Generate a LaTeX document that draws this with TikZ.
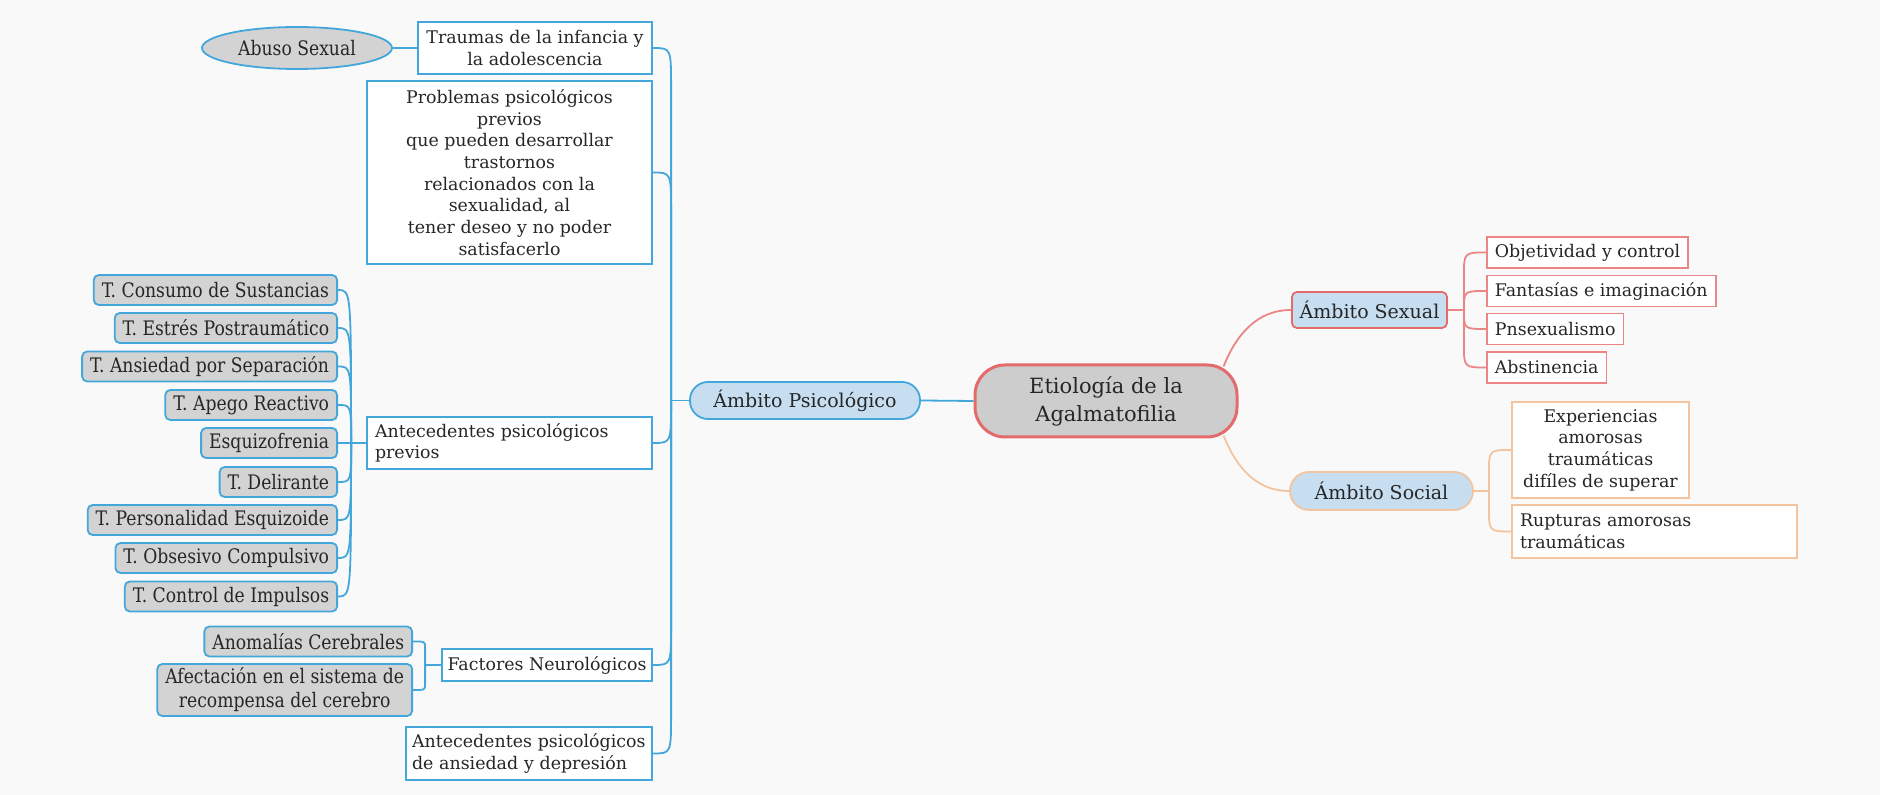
\documentclass[tikz,border=0pt]{standalone}
\usepackage{fontspec}
\setmainfont{DejaVu Serif}
\newfontfamily\condfont[FakeStretch=0.86]{DejaVu Serif}
\usetikzlibrary{calc,shapes.geometric}
\definecolor{bg}{HTML}{F9F9F9}
\definecolor{bl}{HTML}{43A7DC}
\definecolor{blfill}{HTML}{C7DEF1}
\definecolor{gyfill}{HTML}{D3D3D3}
\definecolor{etfill}{HTML}{CDCDCD}
\definecolor{rd}{HTML}{E36B6B}
\definecolor{rdl}{HTML}{EC8585}
\definecolor{og}{HTML}{F4C49E}
\definecolor{tx}{HTML}{262626}
\tikzset{
  wbox/.style={draw=bl, line width=0.9pt, fill=white, inner sep=0pt, align=center, text=tx,
    font=\fontsize{8.7}{10.85}\selectfont},
  gbox/.style={draw=bl, line width=0.9pt, fill=gyfill, rounded corners=2.5pt, minimum height=15pt,
    inner xsep=4pt, inner ysep=1pt, align=center, text=tx, font=\condfont\fontsize{10}{12}\selectfont},
  rbox/.style={wbox, draw=rdl, anchor=west, minimum height=15.5pt, inner xsep=4pt},
  obox/.style={wbox, draw=og},
  link/.style={draw=bl, line width=0.9pt},
  rlink/.style={draw=rdl, line width=0.9pt},
  olink/.style={draw=og, line width=0.9pt},
  fork/.style={to path={let \p1=(\tikztostart), \p2=(\tikztotarget),
      \n1={sign(\y2-\y1)}, \n2={min(abs(\y2-\y1),#1)} in
      -- (\x1,{\y2-(\n1)*(\n2)}) .. controls (\x1,\y2) .. (\tikztotarget)}},
  fork/.default=20pt
}
\begin{document}
\begin{tikzpicture}[x=0.5pt,y=-0.5pt]
\fill[bg] (0,0) rectangle (1880,795);
\useasboundingbox (0,0) rectangle (1880,795);

% central
\node[draw=rd, line width=1.5pt, fill=etfill, rounded corners=15pt, minimum width=131pt,
  minimum height=36pt, align=center, text=tx, font=\fontsize{10.5}{14}\selectfont]
  (eti) at (1106,401) {Etiología de la\\Agalmatofilia};

% psicologico
\node[draw=bl, line width=0.9pt, fill=blfill, rounded corners=9pt, minimum width=115pt,
  minimum height=18.5pt, inner sep=0pt, text=tx, font=\fontsize{9.5}{11}\selectfont]
  (psi) at (805,400.5) {Ámbito Psicológico};

\node[wbox, minimum width=117pt, minimum height=26pt] (trau) at (535,48)
  {Traumas de la infancia y\\la adolescencia};
\node[ellipse, draw=bl, line width=0.9pt, fill=gyfill, minimum width=95pt, minimum height=21pt,
  inner sep=0pt, text=tx, font=\condfont\fontsize{10}{12}\selectfont] (abuso) at (297,48) {Abuso Sexual};
\node[wbox, minimum width=142.5pt, minimum height=91.5pt] (prob) at (509.5,172.5)
  {Problemas psicológicos\\previos\\que pueden desarrollar\\trastornos\\relacionados con la\\sexualidad, al\\tener deseo y no poder\\satisfacerlo};
\node[wbox, minimum height=26pt, inner xsep=4pt, text width=134.5pt, align=left] (antp) at (509.5,443)
  {Antecedentes psicológicos\\previos};
\node[wbox, minimum width=105pt, minimum height=16pt] (fact) at (547,665) {Factores Neurológicos};
\node[wbox, minimum height=26.5pt, inner xsep=3pt, text width=117pt, align=left] (antd) at (529,753.5)
  {Antecedentes psicológicos\\de ansiedad y depresión};

% grey boxes
\node[gbox, anchor=east] (g1) at (338,290) {T. Consumo de Sustancias};
\node[gbox, anchor=east] (g2) at (338,328) {T. Estrés Postraumático};
\node[gbox, anchor=east] (g3) at (338,366.5) {T. Ansiedad por Separación};
\node[gbox, anchor=east] (g4) at (338,405) {T. Apego Reactivo};
\node[gbox, anchor=east] (g5) at (338,443) {Esquizofrenia};
\node[gbox, anchor=east] (g6) at (338,482) {T. Delirante};
\node[gbox, anchor=east] (g7) at (338,520) {T. Personalidad Esquizoide};
\node[gbox, anchor=east] (g8) at (338,558) {T. Obsesivo Compulsivo};
\node[gbox, anchor=east] (g9) at (338,596.5) {T. Control de Impulsos};
\node[gbox, anchor=east] (anom) at (413,641.5) {Anomalías Cerebrales};
\node[gbox, anchor=east, minimum height=26pt] (afec) at (413,690)
  {Afectación en el sistema de\\recompensa del cerebro};

% sexual
\node[draw=rd, line width=0.9pt, fill=blfill, rounded corners=2.5pt, minimum width=77.5pt,
  minimum height=18pt, inner sep=0pt, text=tx, font=\fontsize{9.5}{11}\selectfont]
  (sex) at (1369.5,310) {Ámbito Sexual};
\node[rbox] (obj) at (1486,252.5) {Objetividad y control};
\node[rbox] (fan) at (1486,291) {Fantasías e imaginación};
\node[rbox] (pns) at (1486,329) {Pnsexualismo};
\node[rbox] (abs) at (1486,367.5) {Abstinencia};

% social
\node[draw=og, line width=0.9pt, fill=blfill, rounded corners=9.5pt, minimum width=91.5pt,
  minimum height=19pt, inner sep=0pt, text=tx, font=\fontsize{9.5}{11}\selectfont]
  (soc) at (1381.5,491) {Ámbito Social};
\node[obox, minimum width=88.5pt, minimum height=48pt] (exp) at (1600.5,450)
  {Experiencias\\amorosas\\traumáticas\\difíles de superar};
\node[obox, minimum height=26.5pt, inner xsep=4pt, text width=134.5pt, align=left] (rup) at (1654.5,531.5)
  {Rupturas amorosas\\traumáticas};

% junctions
\coordinate (jpsi) at ($(psi.west)+(-18,0)$);
\coordinate (jant) at ($(antp.west)+(-15,0)$);
\coordinate (jfac) at ($(fact.west)+(-16,0)$);
\coordinate (jsex) at ($(sex.east)+(16,0)$);
\coordinate (jsoc) at ($(soc.east)+(15,0)$);

% connectors
\draw[link] (eti.west) -- (psi.east);
\draw[link] (psi.west) -- (jpsi);
\foreach \t in {trau,prob,antp,fact,antd} \draw[link] (jpsi) to[fork=20pt] (\t.east);
\draw[link] (abuso.east) -- (trau.west);
\draw[link] (antp.west) -- (jant);
\foreach \t in {g1,g2,g3,g4,g5,g6,g7,g8,g9} \draw[link] (jant) to[fork=1000pt] (\t.east);
\draw[link] (fact.west) -- (jfac);
\foreach \t in {anom,afec} \draw[link] (jfac) to[fork=3pt] (\t.east);

\draw[rlink] ([xshift=-7.5pt,yshift=-1.5pt]eti.north east) to[out=68,in=180] (sex.west);
\draw[rlink] (sex.east) -- (jsex);
\foreach \t in {obj,fan,pns,abs} \draw[rlink] (jsex) to[fork=12pt] (\t.west);

\draw[olink] ([xshift=-7.5pt,yshift=1.5pt]eti.south east) to[out=-68,in=180] (soc.west);
\draw[olink] (soc.east) -- (jsoc);
\foreach \t in {exp,rup} \draw[olink] (jsoc) to[fork=12pt] (\t.west);
\end{tikzpicture}
\end{document}
